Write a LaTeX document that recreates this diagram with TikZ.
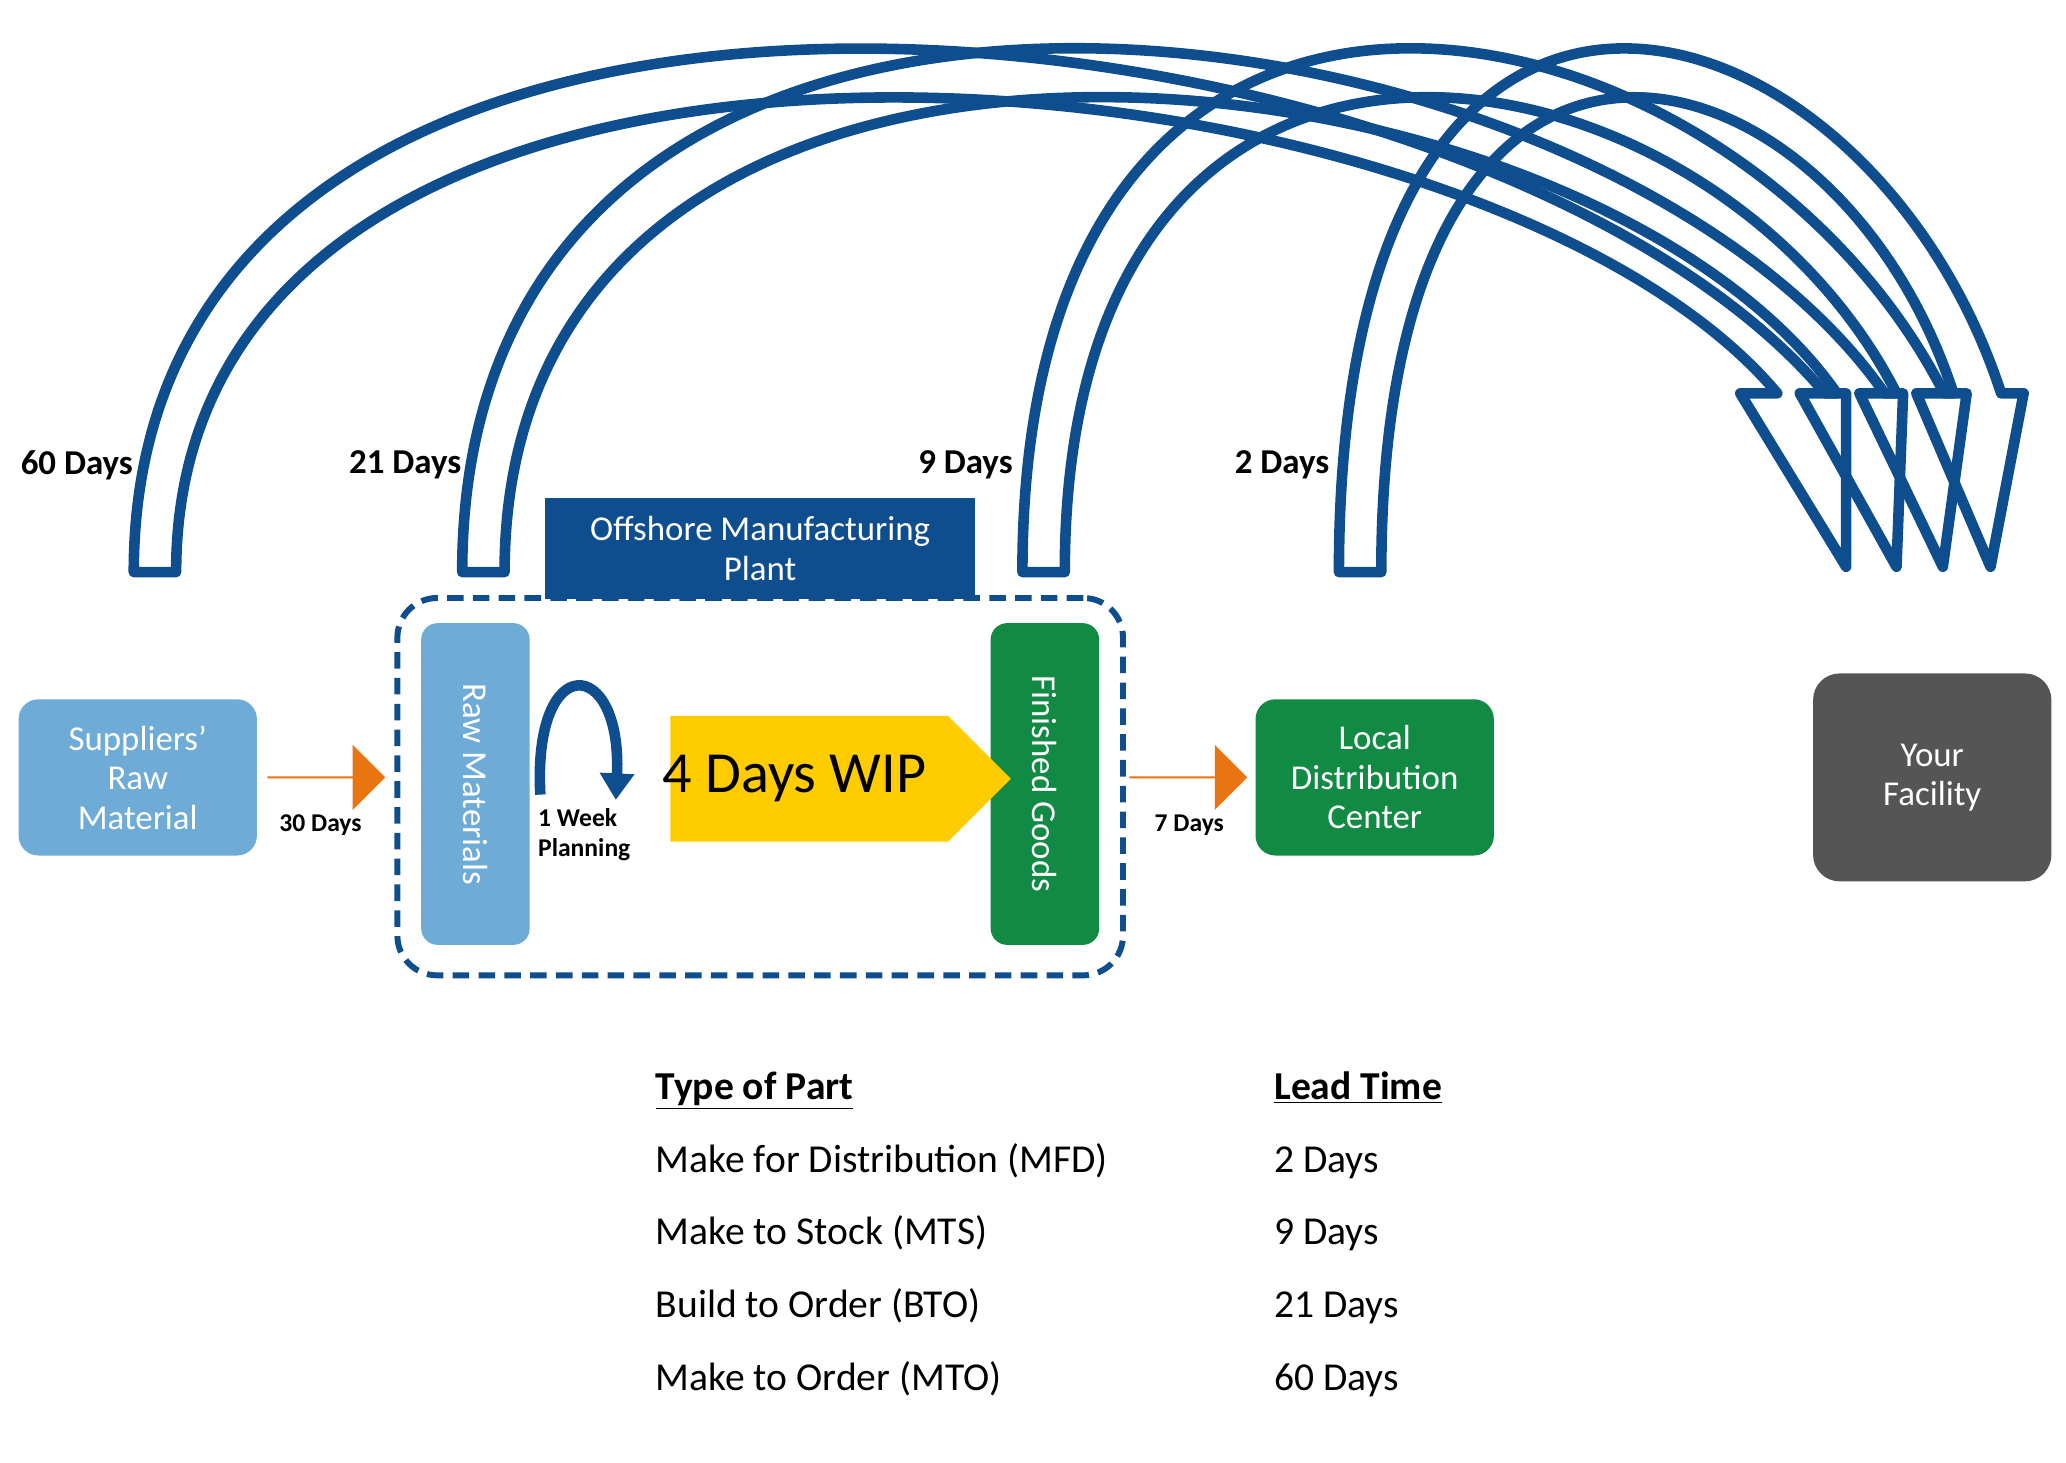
\documentclass[tikz,border=0pt]{standalone}
\usepackage{fontspec}
\setmainfont{Carlito}
\usepackage{tikz}
\usetikzlibrary{arrows.meta,calc,shapes.arrows}

\definecolor{navy}{HTML}{0F4E8E}
\definecolor{lightblue}{HTML}{6EABD6}
\definecolor{leafgreen}{HTML}{118A43}
\definecolor{darkgrey}{HTML}{555555}
\definecolor{pumpkin}{HTML}{E87511}
\definecolor{gold}{HTML}{FFCC00}

\tikzset{
  box/.style={rounded corners=0.3cm, text=white, align=center, font=\fontsize{15}{17}\selectfont,
    minimum width=3.6cm, minimum height=2.36cm, inner sep=0pt},
  tallbox/.style={rounded corners=0.25cm, minimum width=1.64cm, minimum height=4.86cm, inner sep=0pt},
  days/.style={font=\bfseries\fontsize{15}{17}\selectfont},
  smalldays/.style={font=\bfseries\fontsize{11}{13}\selectfont},
  row/.style={anchor=base west, font=\fontsize{17}{20}\selectfont},
  flow/.style={single arrow, fill=pumpkin, minimum height=1.78cm, minimum width=0.98cm,
    single arrow head extend=0.24cm, inner sep=0pt, shape border rotate=0},
  lead/.style={draw=navy, line width=0.16cm, line join=round, line cap=round}
}

% hollow arch arrow: x0, h1, outer end x, inner end x, angle, h2, head left, tip, head right
\newcommand\leadarc[9]{%
  \draw[lead] (#1-16,432) .. controls (#1-16,432-#2*1.06) and ($(#3,297)+(#5+180:#6*1.06)$) .. (#3,297)
    -- (#9,297) -- (#8,428) -- (#7,297) -- (#4,297)
    .. controls ($(#4,297)+(#5+180:#6*0.94)$) and (#1+16,432-#2*0.94) .. (#1+16,432) -- cycle;}

\begin{document}
\begin{tikzpicture}[x=0.02cm, y=-0.02cm]
  \useasboundingbox (0,0) rectangle (1560,1104);

  % lead time arcs
  \leadarc{117}{532}{1378}{1342}{50}{382}{1314}{1394}{1394}
  \leadarc{365}{532}{1423}{1387}{55}{358}{1359}{1432}{1437}
  \leadarc{788}{532}{1468}{1432}{63}{329}{1404}{1467}{1485}
  \leadarc{1027}{532}{1511}{1475}{72}{308}{1447}{1503}{1528}

  \node[days] (d60) at (58,351) {60 Days};
  \node[days] (d21) at (306,351) {21 Days};
  \node[days] (d9) at (729,351) {9 Days};
  \node[days] (d2) at (968,351) {2 Days};

  % plant
  \node[draw=navy, line width=0.09cm, dash pattern=on 0.25cm off 0.14cm, rounded corners=0.6cm,
    minimum width=10.96cm, minimum height=5.7cm] (plant) at (574,594) {};
  \node[fill=navy, text=white, align=center, font=\fontsize{15}{17}\selectfont,
    minimum width=6.5cm, minimum height=1.52cm, inner sep=0pt] (plantlabel) at (574,414)
    {Offshore Manufacturing\\Plant};

  \node[box, fill=lightblue] (supp) at (104,587) {Suppliers’\\Raw\\Material};
  \node[tallbox, fill=lightblue] (raw) at (359,592) {};
  \node[rotate=-90, text=white, font=\fontsize{15}{17}\selectfont] at (raw) {Raw Materials};
  \node[tallbox, fill=leafgreen] (fin) at (789,592) {};
  \node[rotate=-90, text=white, font=\fontsize{15}{17}\selectfont] at (fin) {Finished Goods};
  \node[box, fill=leafgreen] (ldc) at (1038,587) {Local\\Distribution\\Center};
  \node[box, fill=darkgrey, minimum height=3.14cm, rounded corners=0.4cm] (you) at (1459,587) {Your\\Facility};

  % flow arrows
  \node[flow] (a30) at (246,587) {};
  \node[smalldays] at (242,623) {30 Days};
  \node[flow] (a7) at (897,587) {};
  \node[smalldays] at (898,623) {7 Days};

  \node[single arrow, fill=gold, minimum height=5.14cm, minimum width=1.9cm,
    single arrow head extend=0cm, inner sep=0pt] (wip) at (611,588) {};
  \node[font=\fontsize{25}{28}\selectfont] at (600,588) {4 Days WIP};

  % planning loop
  \draw[navy, line width=0.16cm, -{Triangle[length=0.4cm,width=0.5cm]}]
    (408,600) .. controls (402,490) and (470,495) .. (465,604);
  \node[smalldays, anchor=north west, align=left, inner sep=0pt] (plan) at (406,610) {1 Week\\Planning};

  % table
  \node[row, font=\bfseries\fontsize{17}{20}\selectfont] (th1) at (489,830) {\underline{Type of Part}};
  \node[row, font=\bfseries\fontsize{17}{20}\selectfont] (th2) at (956,830) {\underline{Lead Time}};
  \node[row] (p1) at (489,885) {Make for Distribution (MFD)};
  \node[row] (t1) at (956,885) {2 Days};
  \node[row] (p2) at (489,940) {Make to Stock (MTS)};
  \node[row] (t2) at (956,940) {9 Days};
  \node[row] (p3) at (489,995) {Build to Order (BTO)};
  \node[row] (t3) at (956,995) {21 Days};
  \node[row] (p4) at (489,1050) {Make to Order (MTO)};
  \node[row] (t4) at (956,1050) {60 Days};
\end{tikzpicture}
\end{document}
